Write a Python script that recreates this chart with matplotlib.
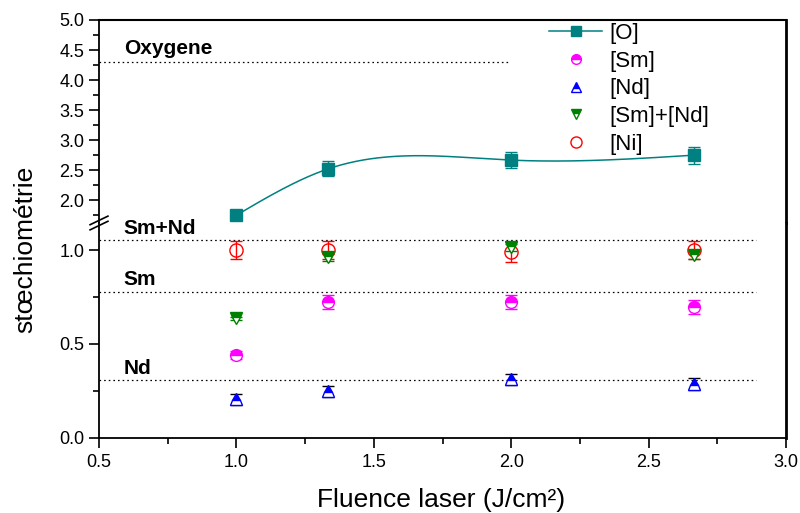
import numpy as np
import matplotlib
matplotlib.use('Agg')
import matplotlib.pyplot as plt
from matplotlib.lines import Line2D

plt.rcParams['font.family'] = ['Liberation Sans', 'DejaVu Sans']

fluence = [1.0, 1.333, 2.0, 2.667]
O = [1.75, 2.52, 2.667, 2.75]
O_err = [0.05, 0.125, 0.13, 0.14]
Sm = [0.441, 0.723, 0.723, 0.696]
Sm_err = [0.02, 0.037, 0.037, 0.037]
Nd = [0.204, 0.247, 0.311, 0.286]
Nd_err = [0.03, 0.03, 0.03, 0.03]
SmNd = [0.637, 0.963, 1.017, 0.976]
SmNd_err = [0.01, 0.02, 0.02, 0.02]
Ni = [1.003, 1.003, 0.994, 1.003]
Ni_err = [0.05, 0.05, 0.053, 0.05]

ref_vals = [4.3, 1.055, 0.78, 0.307]
ref_names = ['Oxygene', 'Sm+Nd', 'Sm', 'Nd']

def natural_spline(x, y, xs):
    x = np.asarray(x, float); y = np.asarray(y, float)
    n = len(x); h = np.diff(x)
    A = np.zeros((n, n)); b = np.zeros(n)
    A[0, 0] = 1; A[-1, -1] = 1
    for i in range(1, n - 1):
        A[i, i-1] = h[i-1]; A[i, i] = 2*(h[i-1]+h[i]); A[i, i+1] = h[i]
        b[i] = 6*((y[i+1]-y[i])/h[i] - (y[i]-y[i-1])/h[i-1])
    M = np.linalg.solve(A, b)
    out = np.empty_like(xs)
    for k, t in enumerate(xs):
        i = min(np.searchsorted(x, t) - 1, n - 2); i = max(i, 0)
        a = x[i+1]-t; c = t-x[i]
        out[k] = (M[i]*a**3 + M[i+1]*c**3)/(6*h[i]) + (y[i]/h[i]-M[i]*h[i]/6)*a + (y[i+1]/h[i]-M[i+1]*h[i]/6)*c
    return out

fig = plt.figure(figsize=(8, 5.13), dpi=100)
L, R = 99/800, 786/800
top, brk, bot = 1-20/513, 1-223/513, 1-437.5/513
ax_u = fig.add_axes([L, brk, R-L, top-brk])
ax_l = fig.add_axes([L, bot, R-L, brk-bot], sharex=ax_u)

ax_u.set_ylim(1.62, 5.0)
ax_l.set_ylim(0, 1.147)
ax_l.set_xlim(0.5, 3.0)

for ax in (ax_u, ax_l):
    ax.spines['left'].set_linewidth(1.3)
    ax.spines['right'].set_linewidth(2)
    ax.spines['top'].set_linewidth(1.5)
    ax.spines['bottom'].set_linewidth(1.3)
    ax.tick_params(axis='both', which='major', direction='out', length=7, width=1.2, labelsize=13)
    ax.tick_params(axis='both', which='minor', direction='out', length=4, width=1.2)
ax_u.spines['bottom'].set_visible(False)
ax_l.spines['top'].set_visible(False)
ax_u.tick_params(axis='x', which='both', bottom=False, labelbottom=False)
ax_u.set_yticks([2.0, 2.5, 3.0, 3.5, 4.0, 4.5, 5.0])
ax_u.set_yticks(np.arange(1.75, 5.0, 0.5), minor=True)
ax_l.set_yticks([0.0, 0.5, 1.0])
ax_l.set_yticks([0.25, 0.75], minor=True)
ax_l.set_xticks([0.5, 1.0, 1.5, 2.0, 2.5, 3.0])
ax_l.set_xticks(np.arange(0.75, 3.0, 0.5), minor=True)
ax_l.tick_params(axis='x', which='major', pad=5)

# reference lines
dots = (0, (1.3, 2.4))
ax_u.plot([0.5, 1.99], [ref_vals[0]]*2, color='black', lw=0.9, ls=dots)
ax_u.text(0.59, ref_vals[0]+0.07, ref_names[0], fontsize=15, fontweight='bold', va='bottom')
for v, name in zip(ref_vals[1:], ref_names[1:]):
    ax_l.plot([0.5, 2.89], [v, v], color='black', lw=0.9, ls=dots)
    ax_l.text(0.59, v+0.012, name, fontsize=15, fontweight='bold', va='bottom')

# oxygen with spline
teal = '#008080'
xs = np.linspace(fluence[0], fluence[-1], 200)
ax_u.plot(xs, natural_spline(fluence, O, xs), color=teal, lw=1.1)
ax_u.errorbar(fluence, O, yerr=O_err, fmt='s', color=teal, ms=9, capsize=4, elinewidth=1, capthick=1)

ms = 8.5
ax_l.errorbar(fluence, Ni, yerr=Ni_err, fmt='o', mfc='none', mec='red', color='red', ms=ms+1, capsize=4, elinewidth=1, capthick=1)
ax_l.errorbar(fluence, SmNd, yerr=SmNd_err, fmt='v', color='green', mec='green', fillstyle='top', mfcalt='white', ms=ms, capsize=4, elinewidth=1)
ax_l.errorbar(fluence, Sm, yerr=Sm_err, fmt='o', color='magenta', mec='magenta', fillstyle='top', mfcalt='white', ms=ms, capsize=4, elinewidth=1)
ax_l.errorbar(fluence, Nd, yerr=Nd_err, fmt='^', color='black', mfc='blue', mec='blue', fillstyle='top', mfcalt='white', ms=ms, capsize=4, elinewidth=1, ecolor='black')

# break marks
kw = dict(transform=ax_l.transAxes, color='black', lw=1.2, clip_on=False)
for dy in (-0.012, 0.012):
    ax_l.plot([-0.013, 0.013], [1+dy-0.02, 1+dy+0.02], **kw)

# legend
handles = [
    Line2D([], [], color=teal, marker='s', ms=7, lw=1.1),
    Line2D([], [], ls='none', marker='o', color='magenta', fillstyle='top', markerfacecoloralt='white', ms=7),
    Line2D([], [], ls='none', marker='^', color='blue', fillstyle='top', markerfacecoloralt='white', ms=7),
    Line2D([], [], ls='none', marker='v', color='green', fillstyle='top', markerfacecoloralt='white', ms=7),
    Line2D([], [], ls='none', marker='o', mfc='none', mec='red', ms=8),
]
labels = ['[O]', '[Sm]', '[Nd]', '[Sm]+[Nd]', '[Ni]']
fig.legend(handles, labels, loc='upper left', bbox_to_anchor=(549/800, 1-23/513), frameon=False,
           fontsize=16, handlelength=2.4, handletextpad=0.3, labelspacing=0.3, borderpad=0, borderaxespad=0)

fig.text(25/800, 1-249/513, 'stœchiométrie', rotation=90, fontsize=19, ha='center', va='center')
fig.text(441/800, 1-500/513, 'Fluence laser (J/cm²)', fontsize=19, ha='center', va='center')

fig.savefig('out.png', dpi=100)
